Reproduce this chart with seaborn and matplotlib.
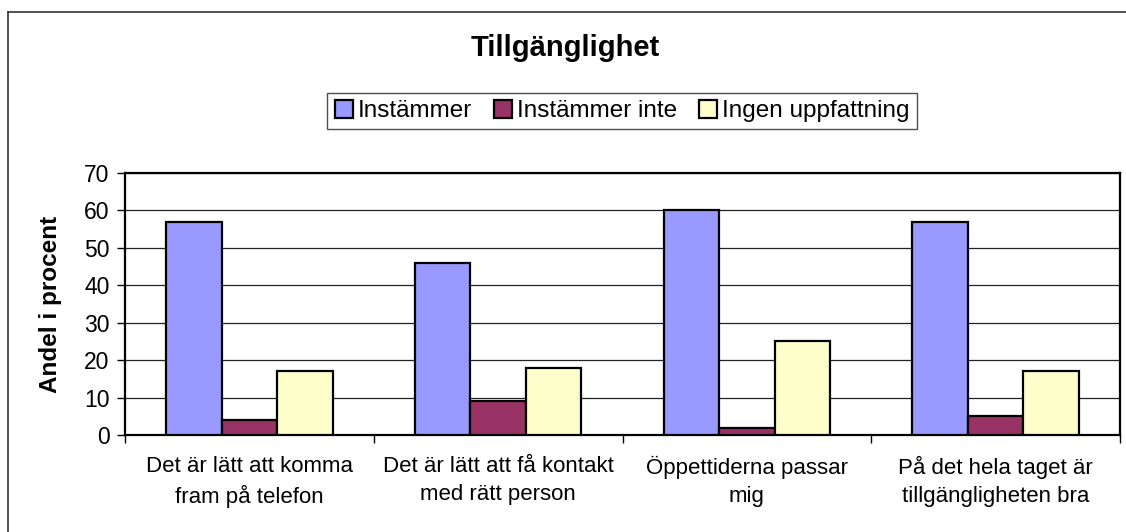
import matplotlib
matplotlib.use("Agg")
import matplotlib.pyplot as plt
import seaborn as sns
import pandas as pd
from matplotlib.lines import Line2D

categories = ["Det är lätt att komma\nfram på telefon",
              "Det är lätt att få kontakt\nmed rätt person",
              "Öppettiderna passar\nmig",
              "På det hela taget är\ntillgängligheten bra"]
series = ["Instämmer", "Instämmer inte", "Ingen uppfattning"]
instammer = [57, 46, 60, 57]
instammer_inte = [4, 9, 2, 5]
ingen_uppfattning = [17, 18, 25, 17]
colors = ["#9999FF", "#993366", "#FFFFCC"]
title = "Tillgänglighet"
ylabel = "Andel i procent"
yticks = [0, 10, 20, 30, 40, 50, 60, 70]

rows = []
for s, vals in zip(series, [instammer, instammer_inte, ingen_uppfattning]):
    for c, v in zip(categories, vals):
        rows.append({"Kategori": c, "Serie": s, "Värde": v})
df = pd.DataFrame(rows)

sns.set_theme(style="white")
plt.rcParams['font.family'] = ['Liberation Sans', 'DejaVu Sans']
plt.rcParams['text.color'] = 'black'
plt.rcParams['axes.labelcolor'] = 'black'
plt.rcParams['xtick.color'] = 'black'
plt.rcParams['ytick.color'] = 'black'

W, H = 1126, 532
fig = plt.figure(figsize=(W / 100, H / 100), dpi=100)
ax = fig.add_axes([125 / W, 1 - 435 / H, (1120 - 125) / W, (435 - 173) / H])

sns.barplot(data=df, x="Kategori", y="Värde", hue="Serie", order=categories,
            hue_order=series, palette=colors, width=0.67, gap=0,
            edgecolor="black", linewidth=1.6, saturation=1, ax=ax, legend=False,
            zorder=3)

ax.set_ylim(0, 70)
ax.set_xlim(-0.5, len(categories) - 0.5)
ax.set_yticks(yticks)
ax.set_yticklabels([str(t) for t in yticks], fontsize=16.5)
ax.yaxis.grid(True, color="#222222", linewidth=0.9, zorder=0)
ax.set_axisbelow(True)
ax.set_xlabel("")
ax.set_ylabel(ylabel, fontsize=17.5, fontweight="bold", labelpad=16)
ax.tick_params(axis="y", which="major", direction="out", length=6, width=1,
               color="black", left=True, pad=5)
ax.tick_params(axis="x", which="major", length=0, pad=15, labelsize=16)
for lbl in ax.get_xticklabels():
    lbl.set_linespacing(1.45)
ax.set_xticks([i - 0.5 for i in range(len(categories) + 1)], minor=True)
ax.tick_params(axis="x", which="minor", direction="out", length=6, width=1,
               color="black", bottom=True)
for sp in ax.spines.values():
    sp.set_visible(True)
    sp.set_color("black")
    sp.set_linewidth(1.6)

handles = [plt.Rectangle((0, 0), 1, 1, facecolor=c, edgecolor="black", linewidth=1.6)
           for c in colors]
leg = fig.legend(handles, series, loc="center", bbox_to_anchor=(622 / W, 1 - 111 / H),
                 ncol=3, frameon=True, fancybox=False, fontsize=17.5,
                 handlelength=0.75, handleheight=0.75, handletextpad=0.2,
                 columnspacing=0.9, borderpad=0.3, edgecolor="#222222")
leg.get_frame().set_linewidth(1)

fig.text(565 / W, 1 - 48 / H, title, ha="center", va="center",
         fontsize=21, fontweight="bold")

# outer chart frame
fig.add_artist(Line2D([8 / W, 8 / W], [1 - 12 / H, 0], transform=fig.transFigure,
                      color="#333333", linewidth=1.2))
fig.add_artist(Line2D([8 / W, 1], [1 - 12 / H, 1 - 12 / H], transform=fig.transFigure,
                      color="#333333", linewidth=1.2))

fig.savefig("out.png", dpi=100, facecolor="white")
